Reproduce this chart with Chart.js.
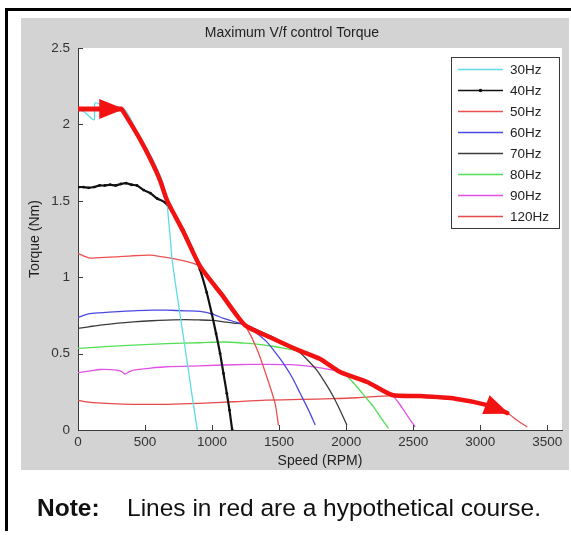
<!DOCTYPE html>
<html>
<head>
<meta charset="utf-8">
<script src="https://cdn.jsdelivr.net/npm/chart.js@4.4.1/dist/chart.umd.min.js"></script>
<style>
  html, body { margin: 0; padding: 0; background: #fff; }
  #wrap { position: relative; width: 571px; height: 535px; overflow: hidden; }
  #c { position: absolute; left: 0; top: 0; }
  .note { position: absolute; top: 496px; font-family: "Liberation Sans", Arial, sans-serif;
          font-size: 24.5px; line-height: 24px; color: #111; white-space: nowrap; }
</style>
</head>
<body>
<div id="wrap">
  <canvas id="c" width="571" height="535"></canvas>
  <div class="note" style="left:37px;font-weight:bold;">Note:</div>
  <div class="note" style="left:127px;">Lines in red are a hypothetical course.</div>
</div>
<script>
const FONT = '"Liberation Sans", Arial, sans-serif';

// axis ticks
const speedTicks = [0, 500, 1000, 1500, 2000, 2500, 3000, 3500];
const torqueTicks = [0, 0.5, 1, 1.5, 2, 2.5];

// measured torque curves: [speed RPM, torque Nm]
const hz30 = [[0,2.1],[50,2.08],[120,2.03],[127,2.14],[200,2.12],[345,2.1],[452,1.93],[552,1.78],[627,1.63],[662,1.5],[675,1.38],[690,1.24],[701,1.12],[750,0.82],[800,0.53],[850,0.23],[890,0]];
const hz40 = [[0,1.59],[40,1.59],[80,1.585],[120,1.59],[160,1.6],[200,1.6],[240,1.605],[280,1.6],[320,1.61],[360,1.615],[400,1.605],[440,1.6],[490,1.57],[540,1.55],[590,1.515],[649,1.49],[700,1.43],[784,1.31],[850,1.19],[910,1.05],[960,0.9],[998,0.76],[1030,0.63],[1060,0.5],[1085,0.37],[1110,0.24],[1130,0.13],[1150,0]];
const hz50 = [[0,1.155],[40,1.14],[90,1.125],[200,1.13],[289,1.133],[400,1.14],[537,1.144],[620,1.135],[711,1.122],[800,1.105],[860,1.09],[910,1.07],[1000,0.98],[1100,0.87],[1246,0.686],[1333,0.534],[1408,0.349],[1470,0.174],[1495,0.03]];
const hz60 = [[0,0.737],[80,0.76],[164,0.767],[300,0.775],[413,0.78],[550,0.785],[662,0.784],[800,0.78],[910,0.776],[1000,0.76],[1085,0.73],[1160,0.71],[1246,0.686],[1330,0.635],[1408,0.577],[1470,0.51],[1532,0.436],[1600,0.34],[1657,0.24],[1720,0.13],[1769,0.033]];
const hz70 = [[0,0.665],[80,0.675],[164,0.686],[300,0.7],[413,0.708],[550,0.715],[662,0.719],[800,0.722],[910,0.72],[1000,0.717],[1085,0.708],[1160,0.7],[1246,0.69],[1350,0.65],[1450,0.61],[1550,0.565],[1644,0.515],[1710,0.46],[1781,0.392],[1850,0.3],[1905,0.218],[1960,0.12],[2005,0.033]];
const hz80 = [[0,0.534],[200,0.545],[413,0.555],[662,0.565],[910,0.571],[1085,0.576],[1250,0.568],[1333,0.562],[1450,0.548],[1582,0.527],[1644,0.52],[1750,0.48],[1850,0.44],[1967,0.38],[2020,0.34],[2080,0.283],[2140,0.22],[2204,0.152],[2260,0.08],[2316,0.01]];
const hz90 = [[0,0.375],[80,0.385],[164,0.396],[289,0.392],[330,0.38],[351,0.366],[380,0.38],[413,0.392],[540,0.405],[662,0.414],[900,0.42],[1159,0.427],[1400,0.43],[1582,0.428],[1700,0.42],[1831,0.403],[1955,0.381],[2154,0.316],[2341,0.229],[2390,0.18],[2428,0.131],[2475,0.07],[2515,0.02]];
const hz120 = [[0,0.196],[50,0.185],[112,0.179],[250,0.172],[413,0.168],[662,0.168],[900,0.174],[1159,0.185],[1400,0.195],[1657,0.2],[1900,0.205],[2080,0.211],[2341,0.225],[2552,0.222],[2814,0.205],[3052,0.163],[3202,0.111],[3280,0.06],[3351,0.02]];

// hypothetical maximum-torque course (red arrows)
const courseStart = [[0,2.1],[330,2.1]];
const courseMain = [[328,2.098],[388,2.013],[463,1.902],[537,1.778],[612,1.634],[664,1.503],[784,1.301],[910,1.072],[1075,0.882],[1246,0.686],[1448,0.601],[1642,0.523],[1806,0.464],[1955,0.379],[2157,0.314],[2343,0.229],[2552,0.222],[2814,0.205],[3052,0.163],[3202,0.111]];

const seriesLabels = ['30Hz','40Hz','50Hz','60Hz','70Hz','80Hz','90Hz','120Hz'];
const seriesData = [hz30, hz40, hz50, hz60, hz70, hz80, hz90, hz120];
const seriesColors = ['#5cdde6','#111111','#ee4f4f','#4a4ae2','#3c3c3c','#52df52','#e052e6','#e64a4a'];

const toXY = arr => arr.map(p => ({ x: p[0], y: p[1] }));

const datasets = seriesData.map((d, i) => ({
  label: seriesLabels[i],
  data: toXY(d),
  borderColor: seriesColors[i],
  backgroundColor: seriesColors[i],
  borderWidth: i === 1 ? 2.2 : 1.3,
  pointRadius: i === 1 ? 1.4 : 0,
  pointHoverRadius: 0,
  pointBorderWidth: 0,
  tension: 0.25,
  showLine: true,
  order: 1,
  legendDot: i === 1
}));

const courseColor = '#f21212';
datasets.push({
  label: 'course-start', data: toXY(courseStart), borderColor: courseColor, backgroundColor: courseColor,
  borderWidth: 5, pointRadius: 0, showLine: true, tension: 0, order: 0, inLegend: false, arrowHead: true
});
datasets.push({
  label: 'course', data: toXY(courseMain), borderColor: courseColor, backgroundColor: courseColor,
  borderWidth: 4.5, pointRadius: 0, showLine: true, tension: 0.2, order: 0, inLegend: false, arrowHead: true,
  borderCapStyle: 'round', borderJoinStyle: 'round'
});

// figure frame, grey panel and white axes background
const panelPlugin = {
  id: 'panel',
  beforeDraw(chart) {
    const { ctx, chartArea: a } = chart;
    ctx.save();
    ctx.fillStyle = '#fff';
    ctx.fillRect(0, 0, chart.width, chart.height);
    ctx.fillStyle = '#000';
    ctx.fillRect(5, 8, 571, 3);
    ctx.fillRect(5, 8, 3, 523);
    ctx.fillStyle = '#d3d3d3';
    ctx.fillRect(21, 18, 548, 452);
    ctx.fillStyle = '#fff';
    ctx.fillRect(a.left, a.top, a.right - a.left, a.bottom - a.top);
    ctx.restore();
  }
};

// inward tick marks like a MATLAB axes
const innerTicksPlugin = {
  id: 'innerTicks',
  afterDraw(chart) {
    const { ctx, chartArea: a, scales: { x, y } } = chart;
    ctx.save();
    ctx.strokeStyle = '#3a3a3a';
    ctx.lineWidth = 1;
    ctx.beginPath();
    x.ticks.forEach(t => {
      const px = Math.round(x.getPixelForValue(t.value)) + 0.5;
      ctx.moveTo(px, a.bottom); ctx.lineTo(px, a.bottom - 5);
    });
    y.ticks.forEach(t => {
      const py = Math.round(y.getPixelForValue(t.value)) + 0.5;
      ctx.moveTo(a.left, py); ctx.lineTo(a.left + 5, py);
    });
    ctx.stroke();
    ctx.restore();
  }
};

// arrowheads at the end of the hypothetical course lines
const arrowPlugin = {
  id: 'arrows',
  afterDatasetsDraw(chart) {
    const { ctx } = chart;
    chart.data.datasets.forEach((ds, i) => {
      if (!ds.arrowHead) return;
      const pts = chart.getDatasetMeta(i).data;
      if (pts.length < 2) return;
      const tip = pts[pts.length - 1], prev = pts[pts.length - 2];
      const ang = Math.atan2(tip.y - prev.y, tip.x - prev.x);
      const len = 23, half = 10;
      ctx.save();
      ctx.translate(tip.x, tip.y);
      ctx.rotate(ang);
      ctx.fillStyle = ds.borderColor;
      ctx.beginPath();
      ctx.moveTo(2, 0);
      ctx.lineTo(-len, -half);
      ctx.lineTo(-len, half);
      ctx.closePath();
      ctx.fill();
      ctx.restore();
    });
  }
};

// boxed legend in the upper right of the axes
const boxLegendPlugin = {
  id: 'boxLegend',
  afterDraw(chart) {
    const { ctx } = chart;
    const items = chart.data.datasets.filter(d => d.inLegend !== false);
    const x0 = 451, y0 = 57, w = 108, h = 171, row = 21, first = 69;
    ctx.save();
    ctx.fillStyle = '#fff';
    ctx.fillRect(x0, y0, w, h);
    ctx.strokeStyle = '#3a3a3a';
    ctx.lineWidth = 1;
    ctx.strokeRect(x0 + 0.5, y0 + 0.5, w, h);
    ctx.font = '13.5px ' + FONT;
    ctx.textBaseline = 'middle';
    ctx.textAlign = 'left';
    items.forEach((d, i) => {
      const yy = first + i * row;
      ctx.strokeStyle = d.borderColor;
      ctx.lineWidth = 1.3;
      ctx.beginPath();
      ctx.moveTo(458, yy + 0.5); ctx.lineTo(503, yy + 0.5);
      ctx.stroke();
      if (d.legendDot) {
        ctx.fillStyle = d.borderColor;
        ctx.beginPath(); ctx.arc(480.5, yy + 0.5, 1.8, 0, Math.PI * 2); ctx.fill();
      }
      ctx.fillStyle = '#222';
      ctx.fillText(d.label, 510, yy + 1);
    });
    ctx.restore();
  }
};

new Chart(document.getElementById('c'), {
  type: 'scatter',
  data: { datasets },
  plugins: [panelPlugin, innerTicksPlugin, arrowPlugin, boxLegendPlugin],
  options: {
    responsive: false,
    animation: false,
    events: [],
    layout: { padding: { left: 22, top: 18, right: 9, bottom: 65 } },
    plugins: {
      legend: { display: false },
      tooltip: { enabled: false },
      title: {
        display: true, text: 'Maximum V/f control Torque', color: '#222',
        font: { size: 14, family: FONT, weight: 'normal' }, padding: { top: 6.6, bottom: 6.6 }
      }
    },
    scales: {
      x: {
        type: 'linear', min: 0, max: 3610,
        afterBuildTicks: s => { s.ticks = speedTicks.map(v => ({ value: v })); },
        afterFit: s => { s.height = 40; },
        grid: { display: false, drawTicks: false },
        border: { display: true, color: '#3a3a3a', width: 1 },
        ticks: { padding: 4, color: '#333', font: { size: 13.5, family: FONT }, maxRotation: 0, autoSkip: false,
                 callback: v => String(v) },
        title: { display: true, text: 'Speed (RPM)', color: '#222', font: { size: 14, family: FONT }, padding: { top: 0, bottom: 0 } }
      },
      y: {
        type: 'linear', min: 0, max: 2.5,
        afterBuildTicks: s => { s.ticks = torqueTicks.map(v => ({ value: v })); },
        afterFit: s => { s.width = 56; },
        grid: { display: false, drawTicks: false },
        border: { display: true, color: '#3a3a3a', width: 1 },
        ticks: { padding: 8, color: '#333', font: { size: 13.5, family: FONT }, autoSkip: false,
                 callback: v => String(v) },
        title: { display: true, text: 'Torque (Nm)', color: '#222', font: { size: 14, family: FONT }, padding: { top: 4.6, bottom: 0 } }
      }
    }
  }
});
</script>
</body>
</html>
